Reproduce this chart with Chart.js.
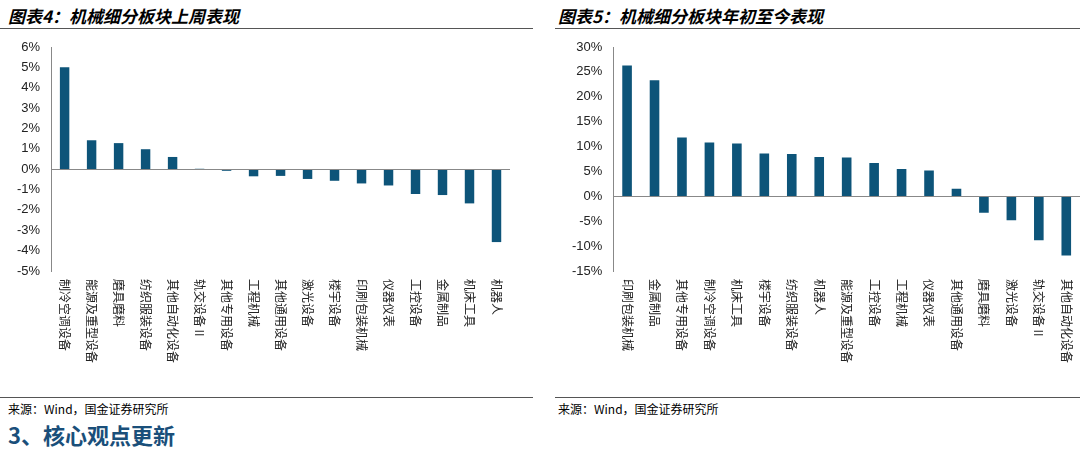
<!DOCTYPE html>
<html><head><meta charset="utf-8">
<script src="https://cdn.jsdelivr.net/npm/chart.js@4"></script>
<style>
body{margin:0;width:1086px;height:463px;background:#fff;position:relative;font-family:"Noto Sans CJK SC",sans-serif;overflow:hidden}
.t{position:absolute;top:3px;font-size:17px;font-weight:bold;font-style:italic;color:#000}
.hl{position:absolute;height:1px;background:#555}
.src{position:absolute;top:400px;font-size:12px;color:#000}
.box{position:absolute;top:30px;height:370px}
h3{position:absolute;left:8px;top:418px;margin:0;font-size:22px;color:#1a4f7a;font-weight:bold}
</style></head><body>
<div class="t" style="left:8px">图表4：机械细分板块上周表现</div>
<div class="t" style="left:558px">图表5：机械细分板块年初至今表现</div>
<div class="hl" style="left:0;width:533px;top:28px"></div>
<div class="hl" style="left:555px;width:525px;top:28px"></div>
<div class="hl" style="left:0;width:533px;top:397px"></div>
<div class="hl" style="left:555px;width:525px;top:397px"></div>
<div class="src" style="left:8px">来源：Wind，国金证券研究所</div>
<div class="src" style="left:558px">来源：Wind，国金证券研究所</div>
<h3>3、核心观点更新</h3>
<div class="box" style="left:0;width:530px"><canvas id="c1"></canvas></div>
<div class="box" style="left:555px;width:530px"><canvas id="c2"></canvas></div>
<script>
const cats1=["制冷空调设备","能源及重型设备","磨具磨料","纺织服装设备","其他自动化设备","轨交设备Ⅱ","其他专用设备","工程机械","其他通用设备","激光设备","楼宇设备","印刷包装机械","仪器仪表","工控设备","金属制品","机床工具","机器人"];
const vals1=[5.0,1.42,1.28,0.98,0.6,0.02,-0.08,-0.35,-0.33,-0.48,-0.57,-0.7,-0.8,-1.22,-1.27,-1.68,-3.58];
const cats2=["印刷包装机械","金属制品","其他专用设备","制冷空调设备","机床工具","楼宇设备","纺织服装设备","机器人","能源及重型设备","工控设备","工程机械","仪器仪表","其他通用设备","磨具磨料","激光设备","轨交设备Ⅱ","其他自动化设备"];
const vals2=[26.3,23.3,11.8,10.8,10.6,8.6,8.5,7.9,7.8,6.7,5.5,5.2,1.5,-3.3,-4.8,-8.8,-11.9];
const ticks1={min:-5,max:6,step:1};
const ticks2={min:-15,max:30,step:5};
const color="#0d5479";
const lab={id:'lab',afterDraw(ch){
  const c=ch.ctx,a=ch.chartArea,x=ch.scales.x,y=ch.scales.y;
  c.save();c.strokeStyle='#888';c.lineWidth=1;
  const z=Math.round(y.getPixelForValue(0))+0.5;
  c.beginPath();c.moveTo(a.left,z);c.lineTo(a.right,z);c.stroke();
  c.fillStyle='#222';c.font='12px "Noto Sans CJK SC"';c.textAlign='left';c.textBaseline='middle';
  ch.data.labels.forEach((l,i)=>{c.save();c.translate(x.getPixelForValue(i),a.bottom+8);c.rotate(Math.PI/2);c.fillText(l,0,0);c.restore();});
  c.restore();}};
function mk(id,cats,vals,t,left){
 new Chart(document.getElementById(id),{type:'bar',data:{labels:cats,datasets:[{data:vals,backgroundColor:color,barPercentage:0.35,categoryPercentage:1}]},
 options:{responsive:true,maintainAspectRatio:false,animation:false,
  layout:{padding:{top:17,bottom:129,right:left?20:5,left:14}},
  plugins:{legend:{display:false},tooltip:{enabled:false}},
  scales:{x:{display:false},
   y:{min:t.min,max:t.max,ticks:{stepSize:t.step,color:'#222',font:{size:13,family:'"Liberation Sans"'},callback:v=>v+'%'},grid:{display:false,drawTicks:true},border:{color:'#888'}}}},
 plugins:[lab]});}
mk('c1',cats1,vals1,ticks1,true);
mk('c2',cats2,vals2,ticks2,false);
</script></body></html>
